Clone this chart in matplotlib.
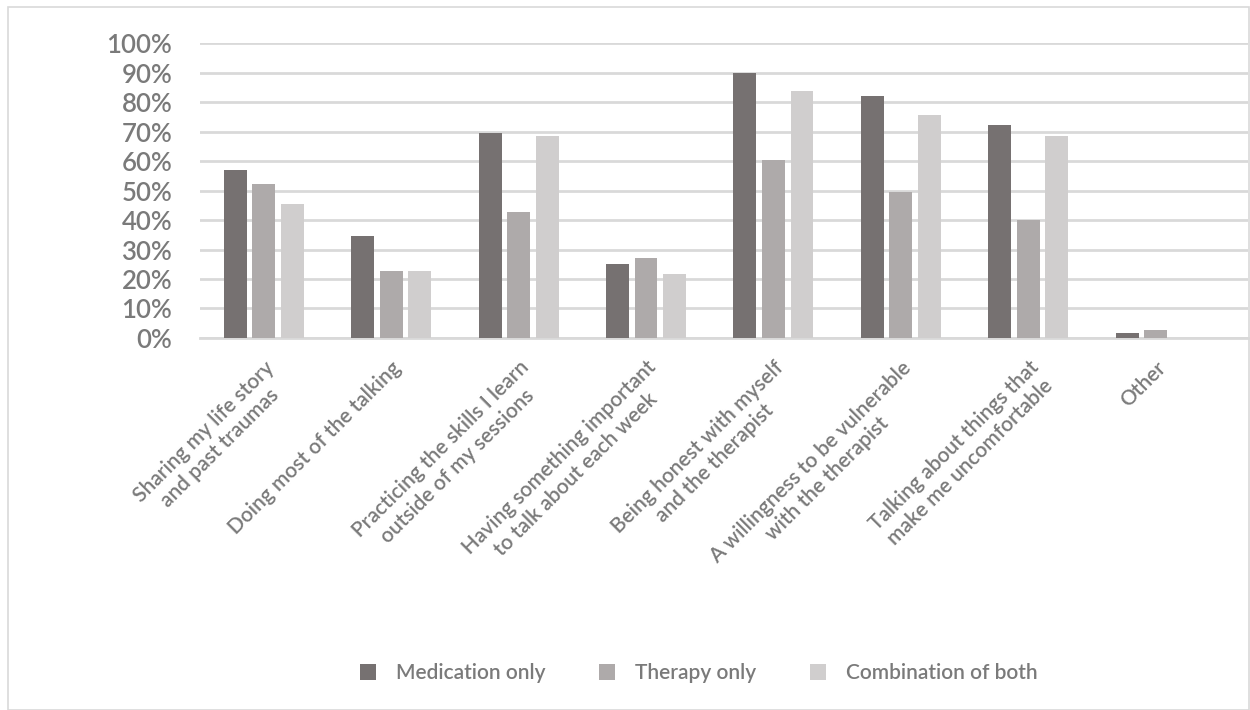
import matplotlib
matplotlib.use("Agg")
import matplotlib.pyplot as plt
import numpy as np
from matplotlib.patches import Rectangle
from matplotlib.ticker import FuncFormatter

categories = [
    "Sharing my life story\nand past traumas",
    "Doing most of the talking",
    "Practicing the skills I learn\noutside of my sessions",
    "Having something important\nto talk about each week",
    "Being honest with myself\nand the therapist",
    "A willingness to be vulnerable\nwith the therapist",
    "Talking about things that\nmake me uncomfortable",
    "Other",
]
medication_only = [57, 34.6, 69.6, 25.2, 90, 82.1, 72.2, 1.6]
therapy_only = [52.3, 22.6, 42.8, 27.2, 60.3, 49.7, 39.9, 2.7]
combination = [45.5, 22.6, 68.5, 21.6, 83.7, 75.8, 68.5, 0]
series_names = ["Medication only", "Therapy only", "Combination of both"]
colors = ["#767171", "#aeaaaa", "#d0cece"]

plt.rcParams['font.family'] = ['Lato', 'DejaVu Sans']
text_color = "#7a7a7a"
weight = 'semibold'

fig = plt.figure(figsize=(12.5, 7.1), dpi=100)
ax = fig.add_axes([0.16, 0.524, 0.838, 0.415])

x = np.arange(len(categories))
width = 0.18
step = 0.224
for i, (vals, name, c) in enumerate(zip([medication_only, therapy_only, combination], series_names, colors)):
    ax.bar(x + (i - 1) * step, vals, width, color=c, label=name, zorder=3)

ax.set_ylim(0, 100)
ax.set_xlim(-0.5, 7.72)
ax.set_yticks(np.arange(0, 101, 10))
ax.yaxis.set_major_formatter(FuncFormatter(lambda v, p: "%d%%" % v))
ax.grid(axis='y', color="#d9d9d9", linewidth=2, zorder=0)
for s in ['top', 'right', 'left']:
    ax.spines[s].set_visible(False)
ax.spines['bottom'].set_color("#d9d9d9")
ax.spines['bottom'].set_linewidth(2)
ax.tick_params(axis='both', length=0, colors=text_color)
ax.tick_params(axis='y', labelsize=18.5, pad=20)
for t in ax.get_yticklabels():
    t.set_fontweight(weight)

ax.set_xticks(x)
ax.set_xticklabels(categories, rotation=45, ha='right', va='top',
                   rotation_mode='anchor', fontsize=15, color=text_color,
                   multialignment='center', fontweight=weight)
ax.tick_params(axis='x', pad=14)

leg = fig.legend(loc='center', bbox_to_anchor=(0.559, 0.052), ncol=3, frameon=False,
                 prop={'size': 15, 'weight': weight}, handlelength=0.77, handleheight=0.77,
                 columnspacing=2.6, handletextpad=0.95)
for t in leg.get_texts():
    t.set_color(text_color)

fig.patches.append(Rectangle((0.006, 0.0), 0.993, 0.99, transform=fig.transFigure,
                             fill=False, edgecolor="#d9d9d9", linewidth=1.2))

fig.savefig("out.png", dpi=100)
